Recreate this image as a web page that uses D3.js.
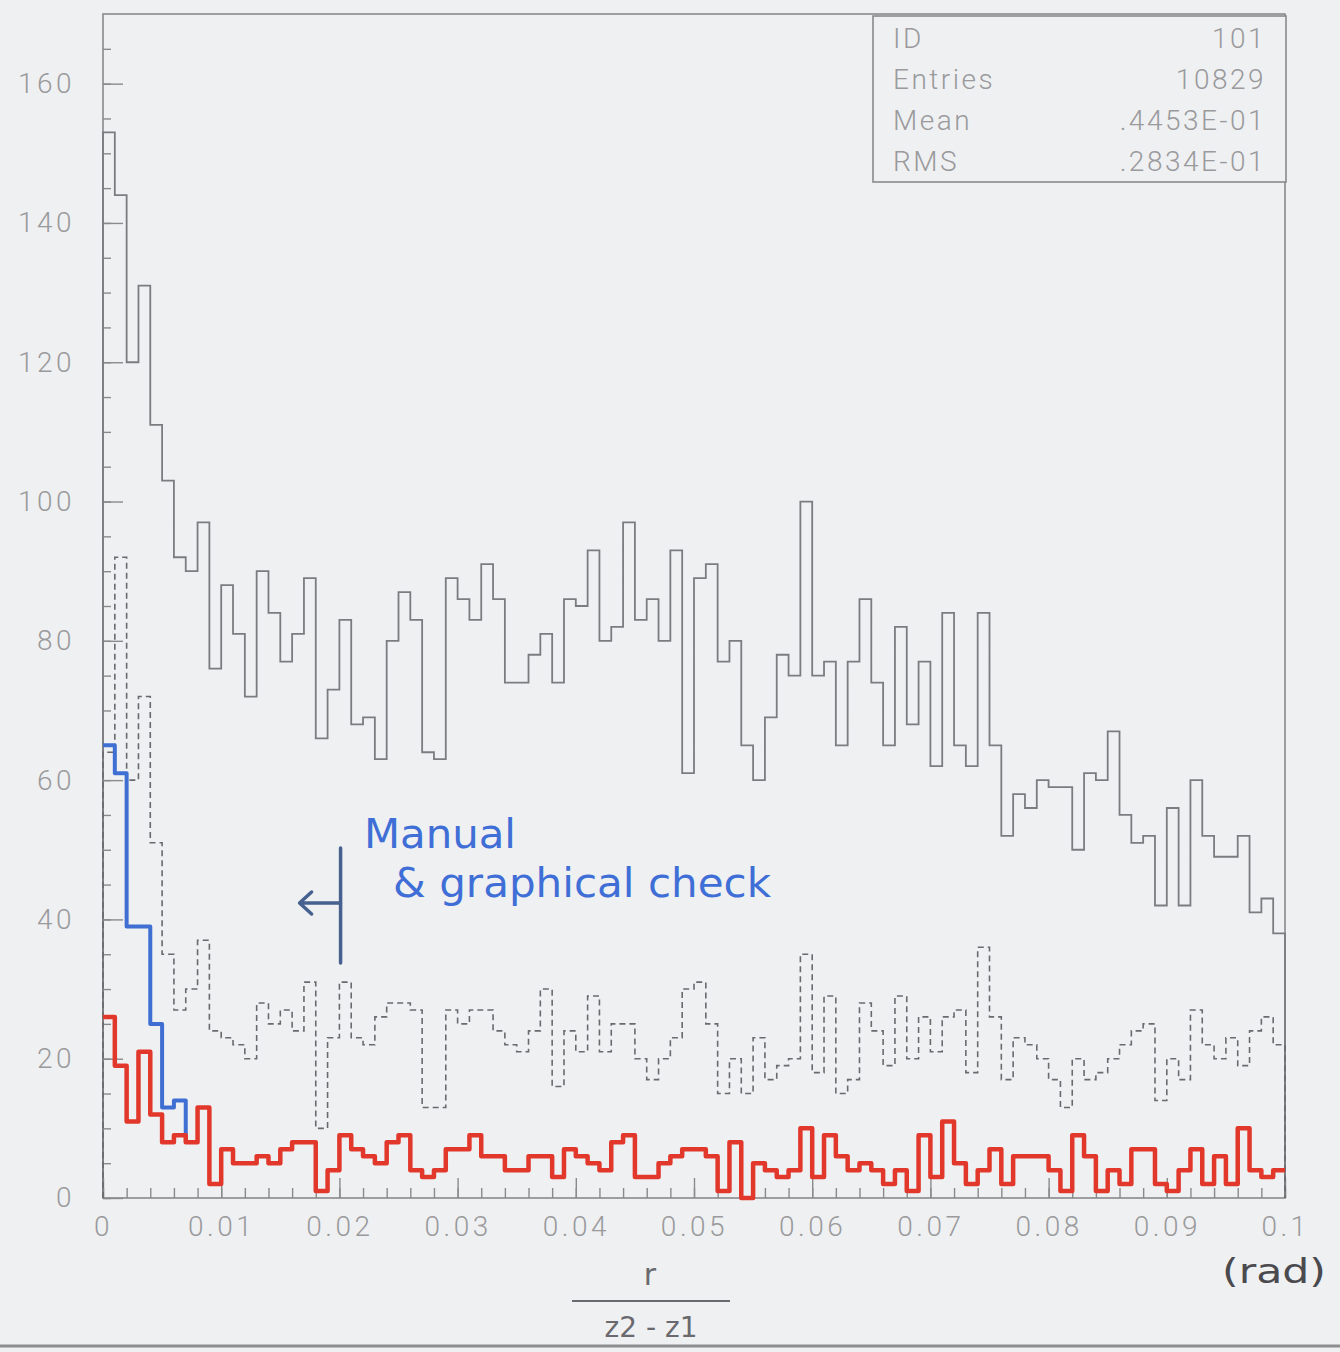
<!DOCTYPE html>
<html>
<head>
<meta charset="utf-8">
<script src="https://cdn.jsdelivr.net/npm/d3@7"></script>
<style>
  html, body { margin: 0; padding: 0; background: #eff0f2; }
  svg { display: block; }
</style>
</head>
<body>
<svg id="chart" width="1340" height="1352"></svg>
<script>
// Histogram of r/(z2-z1), 100 bins of 0.001 rad from 0 to 0.1
const binWidth = 0.001;
const nBins = 100;

// all entries (solid grey)
const allEvents = [
  153,144,120,131,111,103, 92, 90, 97, 76,
   88, 81, 72, 90, 84, 77, 81, 89, 66, 73,
   83, 68, 69, 63, 80, 87, 83, 64, 63, 89,
   86, 83, 91, 86, 74, 74, 78, 81, 74, 86,
   85, 93, 80, 82, 97, 83, 86, 80, 93, 61,
   89, 91, 77, 80, 65, 60, 69, 78, 75,100,
   75, 77, 65, 77, 86, 74, 65, 82, 68, 77,
   62, 84, 65, 62, 84, 65, 52, 58, 56, 60,
   59, 59, 50, 61, 60, 67, 55, 51, 52, 42,
   56, 42, 60, 52, 49, 49, 52, 41, 43, 38
];

// selected subset (dashed)
const selectedEvents = [
   64, 92, 60, 72, 51, 35, 27, 30, 37, 24,
   23, 22, 20, 28, 25, 27, 24, 31, 10, 23,
   31, 23, 22, 26, 28, 28, 27, 13, 13, 27,
   25, 27, 27, 24, 22, 21, 24, 30, 16, 24,
   21, 29, 21, 25, 25, 20, 17, 20, 23, 30,
   31, 25, 15, 20, 15, 23, 17, 19, 20, 35,
   18, 29, 15, 17, 28, 24, 19, 29, 20, 26,
   21, 26, 27, 18, 36, 26, 17, 23, 22, 20,
   17, 13, 20, 17, 18, 20, 22, 24, 25, 14,
   20, 17, 27, 22, 20, 23, 19, 24, 26, 22
];

// remaining subset (red)
const rejectedEvents = [
   26, 19, 11, 21, 12,  8,  9,  8, 13,  2,
    7,  5,  5,  6,  5,  7,  8,  8,  1,  4,
    9,  7,  6,  5,  8,  9,  4,  3,  4,  7,
    7,  9,  6,  6,  4,  4,  6,  6,  3,  7,
    6,  5,  4,  8,  9,  3,  3,  5,  6,  7,
    7,  6,  1,  8,  0,  5,  4,  3,  4, 10,
    3,  9,  6,  4,  5,  4,  2,  4,  1,  9,
    3, 11,  5,  2,  4,  7,  2,  6,  6,  6,
    4,  1,  9,  6,  1,  4,  2,  7,  7,  2,
    1,  4,  7,  2,  6,  2, 10,  4,  3,  4
];

// events checked by hand (blue), first bins only
const checkedEvents = [65, 61, 39, 39, 25, 13, 14];

const yMajorTicks = [0, 20, 40, 60, 80, 100, 120, 140, 160];
const xMajorTicks = [0, 0.01, 0.02, 0.03, 0.04, 0.05, 0.06, 0.07, 0.08, 0.09, 0.1];
const xTickLabels = ["0", "0.01", "0.02", "0.03", "0.04", "0.05", "0.06", "0.07", "0.08", "0.09", "0.1"];

const statsLabels = ["ID", "Entries", "Mean", "RMS"];
const statsValues = ["101", "10829", ".4453E-01", ".2834E-01"];

// ---------------------------------------------------------------
const svg = d3.select("#chart");
const frame = { left: 103, right: 1285, top: 14, bottom: 1198 };

const x = d3.scaleLinear().domain([0, nBins * binWidth]).range([frame.left, frame.right]);
const y = d3.scaleLinear().domain([0, 170]).range([frame.bottom, frame.top]);

const axisFont = "Roboto, 'Open Sans', 'DejaVu Sans', sans-serif";
const greyText = "#9a9a9c";
const frameColor = "#8a8a8c";

// step outline for a histogram; optionally starts and ends on the baseline
function stepLine(values, fromBase, endValue) {
  const pts = [];
  if (fromBase) pts.push([0, 0]);
  values.forEach((v, i) => pts.push([i * binWidth, v]));
  pts.push([values.length * binWidth, values[values.length - 1]]);
  pts.push([values.length * binWidth, endValue]);
  return d3.line()
    .x(d => x(d[0]))
    .y(d => y(d[1]))
    .curve(d3.curveStepAfter)(pts);
}

// frame
svg.append("rect")
  .attr("x", frame.left).attr("y", frame.top)
  .attr("width", frame.right - frame.left)
  .attr("height", frame.bottom - frame.top)
  .attr("fill", "none")
  .attr("stroke", frameColor)
  .attr("stroke-width", 1.6);

// y axis: minor ticks every 5, major every 20, pointing into the plot
const yMinor = svg.append("g").attr("transform", `translate(${frame.left},0)`)
  .call(d3.axisLeft(y).tickValues(d3.range(0, 170, 5)).tickSize(-8).tickFormat(""));
const yMajor = svg.append("g").attr("transform", `translate(${frame.left},0)`)
  .call(d3.axisLeft(y).tickValues(yMajorTicks).tickSize(-20).tickPadding(28).tickFormat(d3.format("d")));

// x axis: minor ticks every 0.002, major every 0.01, pointing up
const xMinor = svg.append("g").attr("transform", `translate(0,${frame.bottom})`)
  .call(d3.axisBottom(x).tickValues(d3.range(0, 0.1001, 0.002)).tickSize(-10).tickFormat(""));
const xMajor = svg.append("g").attr("transform", `translate(0,${frame.bottom})`)
  .call(d3.axisBottom(x).tickValues(xMajorTicks).tickSize(-20).tickPadding(18)
    .tickFormat((d, i) => xTickLabels[i]));

[yMinor, yMajor, xMinor, xMajor].forEach(g => {
  g.select(".domain").remove();
  g.selectAll(".tick line").attr("stroke", frameColor).attr("stroke-width", 1.4);
  g.selectAll(".tick text")
    .attr("fill", greyText)
    .attr("font-family", axisFont)
    .attr("font-weight", 300)
    .attr("font-size", 28)
    .attr("letter-spacing", 3.5);
});

// histograms
svg.append("path")
  .attr("d", stepLine(allEvents, true, 0))
  .attr("fill", "none").attr("stroke", "#7c7c80").attr("stroke-width", 1.8);

svg.append("path")
  .attr("d", stepLine(selectedEvents, true, 0))
  .attr("fill", "none").attr("stroke", "#6a6a6e").attr("stroke-width", 1.6)
  .attr("stroke-dasharray", "6,4");

const checkedEnd = Math.max(rejectedEvents[checkedEvents.length - 1], rejectedEvents[checkedEvents.length]);
svg.append("path")
  .attr("d", stepLine(checkedEvents, false, checkedEnd))
  .attr("fill", "none").attr("stroke", "#3f6fd2").attr("stroke-width", 4)
  .attr("stroke-linejoin", "round");

svg.append("path")
  .attr("d", stepLine(rejectedEvents, false, rejectedEvents[nBins - 1]))
  .attr("fill", "none").attr("stroke", "#e2382c").attr("stroke-width", 4.5)
  .attr("stroke-linejoin", "round");

// statistics box
const stats = svg.append("g");
stats.append("rect")
  .attr("x", 873).attr("y", frame.top + 2)
  .attr("width", 1286 - 873).attr("height", 182 - frame.top - 2)
  .attr("fill", "#eff0f2").attr("stroke", frameColor).attr("stroke-width", 1.6);
statsLabels.forEach((lab, i) => {
  const yy = 48 + i * 41;
  stats.append("text").attr("x", 893).attr("y", yy).text(lab)
    .attr("font-family", axisFont).attr("font-weight", 300).attr("font-size", 28)
    .attr("letter-spacing", 2.5).attr("fill", greyText);
  stats.append("text").attr("x", 1266).attr("y", yy).attr("text-anchor", "end").text(statsValues[i])
    .attr("font-family", axisFont).attr("font-weight", 300).attr("font-size", 28)
    .attr("letter-spacing", 2.5).attr("fill", greyText);
});

// hand-written note with cut marker
const note = svg.append("g");
const cutX = x(0.0201);
note.append("line").attr("x1", cutX).attr("x2", cutX).attr("y1", 848).attr("y2", 963)
  .attr("stroke", "#46608f").attr("stroke-width", 3.5).attr("stroke-linecap", "round");
note.append("path")
  .attr("d", `M${cutX},903 H${cutX - 41} M${cutX - 29},892 L${cutX - 41},903 L${cutX - 29},914`)
  .attr("fill", "none").attr("stroke", "#46608f").attr("stroke-width", 3.5)
  .attr("stroke-linecap", "round").attr("stroke-linejoin", "round");
note.append("text").attr("x", 364).attr("y", 848).text("Manual")
  .attr("font-family", "'DejaVu Sans', sans-serif").attr("font-size", 41)
  .attr("textLength", 152).attr("lengthAdjust", "spacingAndGlyphs")
  .attr("fill", "#3f6fd6");
note.append("text").attr("x", 393).attr("y", 897).text("& graphical check")
  .attr("font-family", "'DejaVu Sans', sans-serif").attr("font-size", 41)
  .attr("textLength", 378).attr("lengthAdjust", "spacingAndGlyphs")
  .attr("fill", "#3f6fd6");

// axis title written as a fraction, plus unit
const title = svg.append("g").attr("fill", "#6a6a6e");
title.append("text").attr("x", 650).attr("y", 1285).attr("text-anchor", "middle").text("r")
  .attr("font-family", "'DejaVu Sans', sans-serif").attr("font-size", 30);
title.append("line").attr("x1", 572).attr("x2", 730).attr("y1", 1301).attr("y2", 1301)
  .attr("stroke", "#6a6a6e").attr("stroke-width", 2);
title.append("text").attr("x", 651).attr("y", 1337).attr("text-anchor", "middle").text("z2 - z1")
  .attr("font-family", "'DejaVu Sans', sans-serif").attr("font-size", 28);
title.append("text").attr("x", 1222).attr("y", 1283).text("(rad)")
  .attr("font-family", "'DejaVu Sans', sans-serif").attr("font-size", 34)
  .attr("textLength", 104).attr("lengthAdjust", "spacingAndGlyphs")
  .attr("fill", "#4a4a4e");

// bottom edge of the sheet
svg.append("line").attr("x1", 0).attr("x2", 1340).attr("y1", 1346).attr("y2", 1346)
  .attr("stroke", "#8e8e90").attr("stroke-width", 3);
</script>
</body>
</html>
